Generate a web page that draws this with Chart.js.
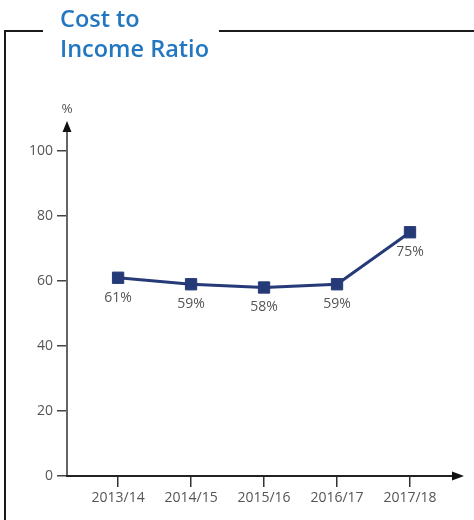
<!DOCTYPE html>
<html>
<head>
<meta charset="utf-8">
<script src="https://cdn.jsdelivr.net/npm/chart.js@4/dist/chart.umd.min.js"></script>
<style>
  html, body { margin: 0; padding: 0; background: #fff; }
  #wrap { position: relative; width: 474px; height: 520px; overflow: hidden; }
  #chart { position: absolute; left: 0; top: 0; }
  .frame-left { position: absolute; left: 4px; top: 30px; width: 2px; height: 500px; background: #1a1a1a; }
  .frame-top1 { position: absolute; left: 4px; top: 30px; width: 39px; height: 2px; background: #1a1a1a; }
  .frame-top2 { position: absolute; left: 219px; top: 30px; width: 260px; height: 2px; background: #1a1a1a; }
  .title { position: absolute; left: 60px; top: 3px; font-family: "Open Sans", sans-serif; font-weight: 600;
           font-size: 23.5px; line-height: 30px; color: #2277c0; }
</style>
</head>
<body>
<div id="wrap">
  <canvas id="chart" width="474" height="520"></canvas>
  <div class="frame-left"></div>
  <div class="frame-top1"></div>
  <div class="frame-top2"></div>
  <div class="title">Cost to<br>Income Ratio</div>
</div>
<script>
// Financial years and cost-to-income ratio (%)
const categories = ['2013/14', '2014/15', '2015/16', '2016/17', '2017/18'];
const ratioValues = [61, 59, 58, 59, 75];
const yTickValues = [0, 20, 40, 60, 80, 100];
const yUnit = '%';

const lineColor = '#263a78';
const textColor = '#555555';
const fontFamily = '"Open Sans", sans-serif';

// Axis lines with arrowheads, extended beyond the plotting area
const arrowAxes = {
  id: 'arrowAxes',
  afterDraw(chart) {
    const { ctx, chartArea } = chart;
    const x0 = chartArea.left, y0 = chartArea.bottom;
    ctx.save();
    // y axis
    ctx.strokeStyle = '#666666';
    ctx.lineWidth = 2;
    ctx.beginPath();
    ctx.moveTo(x0, y0 + 1);
    ctx.lineTo(x0, 130);
    ctx.stroke();
    ctx.fillStyle = '#111111';
    ctx.beginPath();
    ctx.moveTo(x0, 121);
    ctx.lineTo(x0 - 4.5, 132);
    ctx.lineTo(x0 + 4.5, 132);
    ctx.closePath();
    ctx.fill();
    // x axis
    ctx.strokeStyle = '#222222';
    ctx.beginPath();
    ctx.moveTo(x0 - 1, y0);
    ctx.lineTo(455, y0);
    ctx.stroke();
    ctx.beginPath();
    ctx.moveTo(464, y0);
    ctx.lineTo(452, y0 - 4.5);
    ctx.lineTo(452, y0 + 4.5);
    ctx.closePath();
    ctx.fill();
    // unit label
    ctx.fillStyle = textColor;
    ctx.font = '13.5px ' + fontFamily;
    ctx.textAlign = 'center';
    ctx.textBaseline = 'middle';
    ctx.fillText(yUnit, x0, 109);
    ctx.restore();
  }
};

// Value labels under each point
const valueLabels = {
  id: 'valueLabels',
  afterDatasetsDraw(chart) {
    const { ctx } = chart;
    const meta = chart.getDatasetMeta(0);
    ctx.save();
    ctx.fillStyle = textColor;
    ctx.font = '14px ' + fontFamily;
    ctx.textAlign = 'center';
    ctx.textBaseline = 'middle';
    meta.data.forEach((pt, i) => {
      ctx.fillText(ratioValues[i] + '%', pt.x, pt.y + 20);
    });
    ctx.restore();
  }
};

new Chart(document.getElementById('chart'), {
  type: 'line',
  data: {
    datasets: [{
      data: ratioValues.map((v, i) => ({ x: i, y: v })),
      borderColor: lineColor,
      borderWidth: 3,
      backgroundColor: lineColor,
      pointStyle: 'rect',
      pointRadius: 8,
      pointBorderWidth: 1,
      pointBorderColor: lineColor,
      pointBackgroundColor: lineColor,
      fill: false,
      tension: 0,
      clip: false
    }]
  },
  options: {
    responsive: false,
    animation: false,
    devicePixelRatio: 1,
    layout: { padding: { left: 0, top: 151, right: 64, bottom: 0 } },
    plugins: { legend: { display: false }, tooltip: { enabled: false } },
    scales: {
      x: {
        type: 'linear',
        min: -0.7,
        max: 4,
        afterBuildTicks(scale) { scale.ticks = categories.map((_, i) => ({ value: i })); },
        afterFit(scale) { scale.height = 44; },
        border: { display: false },
        grid: { drawOnChartArea: false, drawTicks: true, tickLength: 11, color: '#333333', lineWidth: 1.5 },
        ticks: {
          autoSkip: false,
          maxRotation: 0,
          padding: 3,
          color: textColor,
          font: { family: fontFamily, size: 14 },
          callback: (v) => categories[v]
        }
      },
      y: {
        min: 0,
        max: 100,
        afterBuildTicks(scale) { scale.ticks = yTickValues.map(v => ({ value: v })); },
        afterFit(scale) { scale.width = 67; },
        border: { display: false },
        grid: { drawOnChartArea: false, drawTicks: true, tickLength: 10, color: '#444444', lineWidth: 1.5 },
        ticks: {
          padding: 4,
          color: textColor,
          font: { family: fontFamily, size: 14 }
        }
      }
    }
  },
  plugins: [arrowAxes, valueLabels]
});
</script>
</body>
</html>
